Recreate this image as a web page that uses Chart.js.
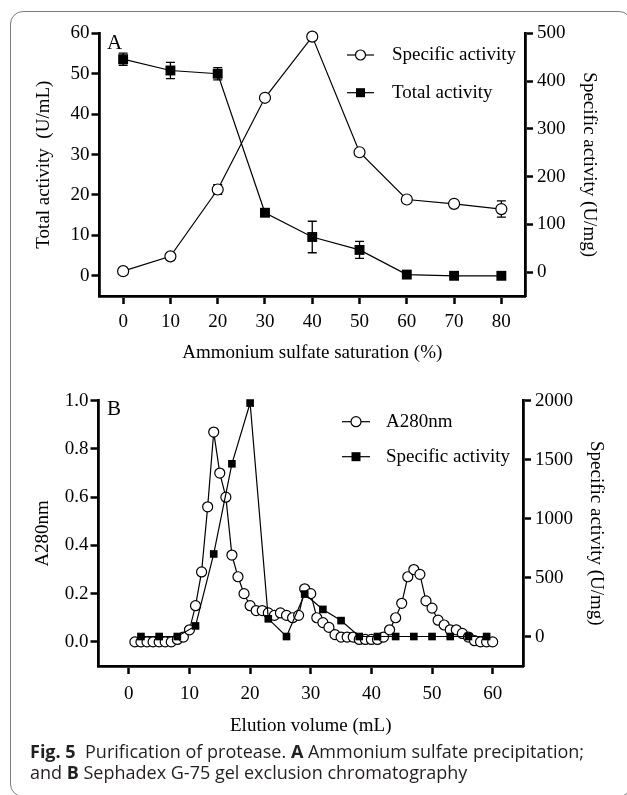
<!DOCTYPE html>
<html><head><meta charset="utf-8">
<script src="https://cdn.jsdelivr.net/npm/chart.js@4/dist/chart.umd.min.js"></script>
<style>
html,body{margin:0;padding:0;background:#fff;width:627px;height:795px;overflow:hidden;position:relative}
#card{position:absolute;left:10px;top:11px;width:622px;height:786px;border:1px solid #7a7a7a;border-radius:13px;box-sizing:border-box}
canvas{position:absolute;left:0}
#ca{top:0}
#cb{top:380px}
#cap{position:absolute;left:30px;top:741px;font-family:"Open Sans";font-size:18px;line-height:21px;color:#231f20;white-space:nowrap}
#cap b{font-weight:700;color:#231f20}
</style></head><body>
<div id="card"></div>
<canvas id="ca" width="627" height="380"></canvas>
<canvas id="cb" width="627" height="365"></canvas>
<div id="cap"><b>Fig. 5</b>&nbsp; Purification of protease. <b>A</b> Ammonium sulfate precipitation;<br>and <b>B</b> Sephadex G-75 gel exclusion chromatography</div>
<script>
// ---------- Panel A data ----------
const satLevels     = [0, 10, 20, 30, 40, 50, 60, 70, 80];
const specActA      = [2, 33, 173, 365, 493, 251, 152, 143, 132];
const specActAErr   = [0, 0, 10, 5, 0, 0, 0, 0, 17];
const totalActA     = [53.6, 50.8, 50.0, 15.6, 9.6, 6.4, 0.3, 0, 0];
const totalActAErr  = [1.5, 2.0, 1.5, 0.3, 3.9, 2.1, 0, 0, 0];
const xTicksA       = [0, 10, 20, 30, 40, 50, 60, 70, 80];
const yLeftTicksA   = [0, 10, 20, 30, 40, 50, 60];
const yRightTicksA  = [0, 100, 200, 300, 400, 500];

// ---------- Panel B data ----------
const elutionVol = [1,2,3,4,5,6,7,8,9,10,11,12,13,14,15,16,17,18,19,20,21,22,23,24,25,26,27,28,29,30,
                    31,32,33,34,35,36,37,38,39,40,41,42,43,44,45,46,47,48,49,50,51,52,53,54,55,56,57,58,59,60];
const a280       = [0,0,0,0,0,0,0,0.01,0.02,0.05,0.15,0.29,0.56,0.87,0.70,0.60,0.36,0.27,0.20,0.15,
                    0.13,0.13,0.12,0.11,0.12,0.11,0.10,0.11,0.22,0.20,0.10,0.08,0.06,0.03,0.02,0.02,0.02,0.01,0.01,0.01,
                    0.01,0.02,0.05,0.10,0.16,0.27,0.30,0.28,0.17,0.14,0.09,0.07,0.05,0.05,0.035,0.02,0.005,0,0,0];
const actVol     = [2,5,8,11,14,17,20,23,26,29,32,35,38,41,44,47,50,53,56,59];
const specActB   = [0,0,0,90,700,1465,1980,150,0,360,230,135,0,0,0,0,0,0,0,0];
const xTicksB      = [0, 10, 20, 30, 40, 50, 60];
const yLeftTicksB  = [0, 0.2, 0.4, 0.6, 0.8, 1.0];
const yRightTicksB = [0, 500, 1000, 1500, 2000];

const SERIF = '"Liberation Serif", "Times New Roman", serif';
const pts = (xs, ys) => xs.map((x, i) => ({x: x, y: ys[i]}));

const errPlugin = {
  id: 'errBars',
  beforeDatasetsDraw(chart, args, opts) {
    if (!opts || !opts.sets) return;
    const ctx = chart.ctx;
    ctx.save();
    ctx.strokeStyle = '#000'; ctx.lineWidth = 1.3;
    opts.sets.forEach(s => {
      const ds = chart.data.datasets[s.ds];
      const xs = chart.scales.x, ys = chart.scales[ds.yAxisID];
      ds.data.forEach((p, i) => {
        const e = s.err[i]; if (!e) return;
        const x = xs.getPixelForValue(p.x);
        const y1 = ys.getPixelForValue(p.y - e), y2 = ys.getPixelForValue(p.y + e);
        ctx.beginPath();
        ctx.moveTo(x, y1); ctx.lineTo(x, y2);
        ctx.moveTo(x - 4.5, y1); ctx.lineTo(x + 4.5, y1);
        ctx.moveTo(x - 4.5, y2); ctx.lineTo(x + 4.5, y2);
        ctx.stroke();
      });
    });
    ctx.restore();
  }
};

const legendPlugin = {
  id: 'fixedLegend',
  afterDraw(chart, args, o) {
    const ctx = chart.ctx;
    ctx.save();
    o.order.forEach((dsi, i) => {
      const ds = chart.data.datasets[dsi];
      const y = o.y[i];
      ctx.strokeStyle = '#000'; ctx.lineWidth = 1.2;
      ctx.beginPath(); ctx.moveTo(o.x0, y); ctx.lineTo(o.x1, y); ctx.stroke();
      const cx = (o.x0 + o.x1) / 2;
      if (ds.pointStyle === 'rect') {
        ctx.fillStyle = '#000';
        ctx.fillRect(cx - 4.5, y - 4.5, 9, 9);
      } else {
        ctx.beginPath(); ctx.arc(cx, y, 5, 0, Math.PI * 2);
        ctx.fillStyle = '#fff'; ctx.fill(); ctx.lineWidth = 1.2; ctx.stroke();
      }
      ctx.fillStyle = '#000';
      ctx.font = '19px ' + SERIF;
      ctx.textBaseline = 'middle'; ctx.textAlign = 'left';
      ctx.fillText(ds.label, o.tx, y);
    });
    ctx.font = '21px ' + SERIF;
    ctx.textBaseline = 'alphabetic';
    ctx.fillText(o.letter, o.lx, o.ly);
    ctx.restore();
  }
};

function yAxis(pos, min, max, tickArr, title, width, tpad, fmt) {
  return {
    type: 'linear', position: pos, min: min, max: max,
    afterBuildTicks: s => { s.ticks = tickArr.map(v => ({value: v})); },
    afterFit: s => { s.width = width; },
    border: {display: true, color: '#000', width: 2.8},
    grid: {display: true, drawOnChartArea: false, drawTicks: true, tickLength: 8, tickWidth: 2.5, tickColor: '#000'},
    ticks: {color: '#000', font: {family: SERIF, size: 19}, padding: pos === 'left' ? 2 : 4,
            callback: v => fmt(v)},
    title: {display: true, text: title, color: '#000', font: {family: SERIF, size: 19},
            padding: {top: tpad, bottom: 0}}
  };
}
function xAxis(min, max, tickArr, title, height, tickPad, tpad) {
  return {
    type: 'linear', position: 'bottom', min: min, max: max,
    afterBuildTicks: s => { s.ticks = tickArr.map(v => ({value: v})); },
    afterFit: s => { s.height = height; },
    border: {display: true, color: '#000', width: 2.8},
    grid: {display: true, drawOnChartArea: false, drawTicks: true, tickLength: 8, tickWidth: 2.5, tickColor: '#000'},
    ticks: {color: '#000', font: {family: SERIF, size: 19}, padding: tickPad, maxRotation: 0,
            callback: v => String(v)},
    title: {display: true, text: title, color: '#000', font: {family: SERIF, size: 19},
            padding: {top: 0, bottom: tpad}}
  };
}

// ---------- Chart A ----------
new Chart(document.getElementById('ca'), {
  type: 'line',
  data: {
    datasets: [
      {label: 'Specific activity', data: pts(satLevels, specActA), yAxisID: 'y2',
       borderColor: '#000', borderWidth: 1.2, tension: 0, fill: false, clip: false,
       pointStyle: 'circle', pointRadius: 5.5, pointBorderWidth: 1.2,
       pointBackgroundColor: '#fff', pointBorderColor: '#000', order: 1},
      {label: 'Total activity', data: pts(satLevels, totalActA), yAxisID: 'y',
       borderColor: '#000', borderWidth: 1.2, tension: 0, fill: false, clip: false,
       pointStyle: 'rect', pointRadius: 7, pointBorderWidth: 0,
       pointBackgroundColor: '#000', pointBorderColor: '#000', order: 0}
    ]
  },
  options: {
    responsive: false, animation: false, devicePixelRatio: 1,
    layout: {padding: {top: 33.3, left: 0, right: 0, bottom: 0}},
    scales: {
      x: xAxis(-5, 85, xTicksA, 'Ammonium sulfate saturation (%)', 84, 6.3, 15.3),
      y: yAxis('left', -5, 60, yLeftTicksA, 'Total activity  (U/mL)', 99.5, 32.6, v => String(v)),
      y2: yAxis('right', -50, 500, yRightTicksA, 'Specific activity (U/mg)', 102, 26.6, v => String(v))
    },
    plugins: {
      legend: {display: false}, tooltip: {enabled: false},
      errBars: {sets: [{ds: 0, err: specActAErr}, {ds: 1, err: totalActAErr}]},
      fixedLegend: {order: [0, 1], y: [55, 92.7], x0: 347, x1: 374, tx: 392,
                    letter: 'A', lx: 107, ly: 48.5}
    }
  },
  plugins: [errPlugin, legendPlugin]
});

// ---------- Chart B ----------
new Chart(document.getElementById('cb'), {
  type: 'line',
  data: {
    datasets: [
      {label: 'A280nm', data: pts(elutionVol, a280), yAxisID: 'y',
       borderColor: '#000', borderWidth: 1.2, tension: 0, fill: false, clip: false,
       pointStyle: 'circle', pointRadius: 5, pointBorderWidth: 1.2,
       pointBackgroundColor: '#fff', pointBorderColor: '#000', order: 1},
      {label: 'Specific activity', data: pts(actVol, specActB), yAxisID: 'y2',
       borderColor: '#000', borderWidth: 1.2, tension: 0, fill: false, clip: false,
       pointStyle: 'rect', pointRadius: 5.4, pointBorderWidth: 0,
       pointBackgroundColor: '#000', pointBorderColor: '#000', order: 0}
    ]
  },
  options: {
    responsive: false, animation: false, devicePixelRatio: 1,
    layout: {padding: {top: 20.7, left: 0, right: 0, bottom: 0}},
    scales: {
      x: xAxis(-5, 65, xTicksB, 'Elution volume (mL)', 79, 8.6, 7.9),
      y: yAxis('left', -0.1, 1.0, yLeftTicksB, 'A280nm', 98.5, 31.6, v => v.toFixed(1)),
      y2: yAxis('right', -250, 2000, yRightTicksB, 'Specific activity (U/mg)', 104, 19.6, v => String(v))
    },
    plugins: {
      legend: {display: false}, tooltip: {enabled: false},
      fixedLegend: {order: [0, 1], y: [41.7, 76.7], x0: 342, x1: 370, tx: 386,
                    letter: 'B', lx: 107, ly: 35}
    }
  },
  plugins: [legendPlugin]
});
</script>
</body></html>
